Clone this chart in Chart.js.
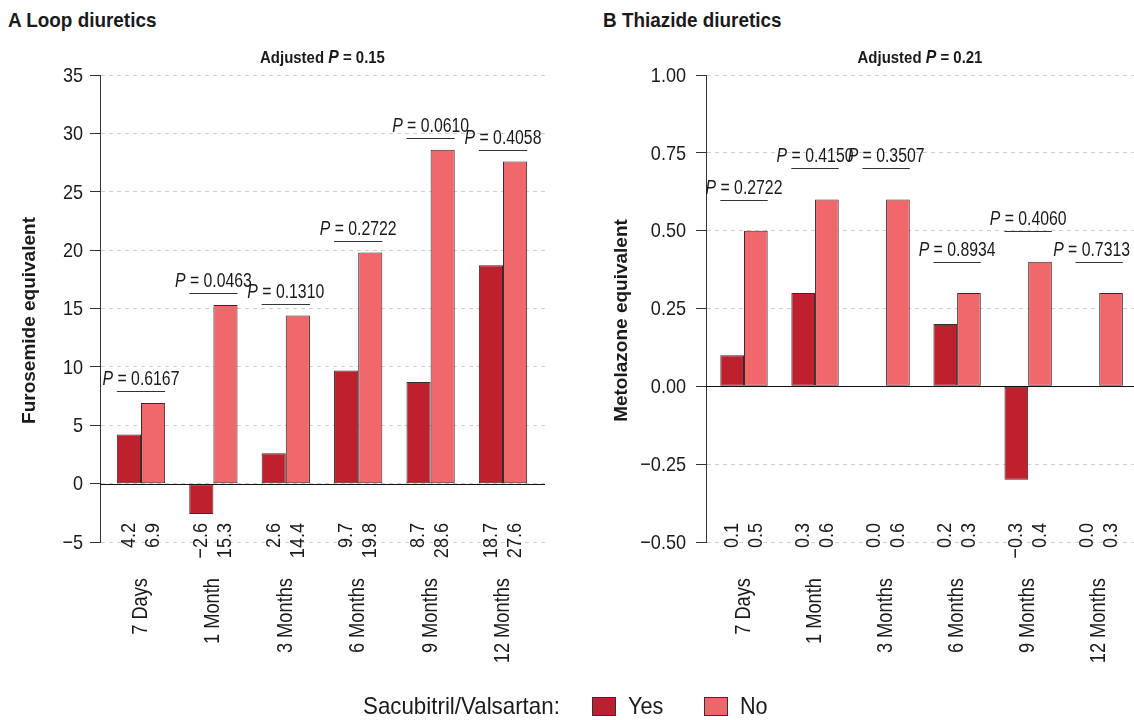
<!DOCTYPE html>
<html>
<head>
<meta charset="utf-8">
<script src="https://cdn.jsdelivr.net/npm/chart.js@4.4.1/dist/chart.umd.min.js"></script>
<style>
  body { margin: 0; width: 1134px; height: 720px; background: #fff; position: relative; overflow: hidden;
         font-family: 'Liberation Sans', Arial, sans-serif; color: #1a1a1a; }
  .panel { position: absolute; top: 0; width: 567px; height: 720px; }
  .title { position: absolute; top: 8px; font-weight: bold; font-size: 21px; line-height: 24px;
           transform: scaleX(0.9); transform-origin: left center; white-space: nowrap; }
  .leg { position: absolute; font-size: 24px; line-height: 28px; top: 692px; white-space: nowrap;
         transform: scaleX(0.9); transform-origin: left center; }
  .sw { position: absolute; top: 697px; width: 24px; height: 19px; border: 1px solid #333; box-sizing: border-box; }
</style>
</head>
<body>
  <div class="title" style="left:8px">A Loop diuretics</div>
  <div class="title" style="left:603px">B Thiazide diuretics</div>

  <div class="panel" style="left:0"><canvas id="loopChart" width="567" height="720"></canvas></div>
  <div class="panel" style="left:567px"><canvas id="thiazideChart" width="567" height="720"></canvas></div>

  <div class="leg" style="left:363px; transform: scaleX(0.93)">Sacubitril/Valsartan:</div>
  <div class="sw" style="left:592px; background:#B8212F"></div>
  <div class="leg" style="left:628px">Yes</div>
  <div class="sw" style="left:704px; background:#EB6769"></div>
  <div class="leg" style="left:740px">No</div>

<script>
// ---- data ----
const categories = ['7 Days', '1 Month', '3 Months', '6 Months', '9 Months', '12 Months'];

const loopYes = [4.2, -2.6, 2.6, 9.7, 8.7, 18.7];
const loopNo = [6.9, 15.3, 14.4, 19.8, 28.6, 27.6];
const loopP = ['0.6167', '0.0463', '0.1310', '0.2722', '0.0610', '0.4058'];
const loopBracket = [7.9, 16.3, 15.4, 20.8, 29.6, 28.6];
const loopTicks = [-5, 0, 5, 10, 15, 20, 25, 30, 35];

const thiaYes = [0.1, 0.3, 0.0, 0.2, -0.3, 0.0];
const thiaNo = [0.5, 0.6, 0.6, 0.3, 0.4, 0.3];
const thiaP = ['0.2722', '0.4150', '0.3507', '0.8934', '0.4060', '0.7313'];
const thiaBracket = [0.6, 0.7, 0.7, 0.4, 0.5, 0.4];
const thiaTicks = [-0.5, -0.25, 0, 0.25, 0.5, 0.75, 1.0];

const YES_COLOR = '#BE202E';
const NO_COLOR = '#F0686B';
const FONT = "'Liberation Sans', Arial, sans-serif";
const MINUS = '\u2212';

function fmt(v, d) {
    const s = Math.abs(v).toFixed(d);
    return (v < 0 && Math.abs(v) > 1e-9 ? MINUS : '') + s;
}

// one string, optionally rotated, squeezed horizontally by sx
function txt(ctx, s, x, y, font, align, sx, rot) {
    ctx.save();
    ctx.translate(x, y);
    if (rot) ctx.rotate(rot);
    ctx.scale(sx, 1);
    ctx.font = font;
    ctx.textAlign = align;
    ctx.fillText(s, 0, 0);
    ctx.restore();
}

// row of pieces with different fonts, centred on cx (kept inside maxX)
function drawMixed(ctx, parts, cx, y, sx, maxX) {
    let total = 0;
    parts.forEach(p => { ctx.font = p[1]; total += ctx.measureText(p[0]).width * sx; });
    let x = cx - total / 2;
    if (maxX && x + total > maxX) x = maxX - total;
    parts.forEach(p => {
        txt(ctx, p[0], x, y, p[1], 'left', sx, 0);
        ctx.font = p[1];
        x += ctx.measureText(p[0]).width * sx;
    });
}

const annotate = {
    id: 'annotate',
    afterDatasetsDraw(chart, args, o) {
        const { ctx, chartArea: a, scales: { x, y } } = chart;
        const m0 = chart.getDatasetMeta(0), m1 = chart.getDatasetMeta(1);
        ctx.save();

        // zero line
        const y0 = Math.round(y.getPixelForValue(0)) + 0.5;
        ctx.strokeStyle = '#111';
        ctx.lineWidth = 1;
        ctx.beginPath(); ctx.moveTo(a.left, y0); ctx.lineTo(a.right, y0); ctx.stroke();

        ctx.fillStyle = '#1a1a1a';

        // y tick labels
        ctx.textBaseline = 'middle';
        o.ticks.forEach(v => {
            txt(ctx, fmt(v, o.dec), a.left - 10 - o.tickPad, y.getPixelForValue(v) + 1,
                '21px ' + FONT, 'right', 0.86, 0);
        });

        // P value brackets
        ctx.textBaseline = 'alphabetic';
        for (let i = 0; i < categories.length; i++) {
            const b0 = m0.data[i], b1 = m1.data[i];
            const x1 = b0.x - b0.width / 2, x2 = b1.x + b1.width / 2;
            const hy = Math.round(y.getPixelForValue(o.bracket[i])) + 0.5;
            ctx.strokeStyle = '#333';
            ctx.lineWidth = 1.2;
            ctx.beginPath(); ctx.moveTo(x1, hy); ctx.lineTo(x2, hy); ctx.stroke();
            drawMixed(ctx, [['P', 'italic 20px ' + FONT], [' = ' + o.pvals[i], '20px ' + FONT]],
                (x1 + x2) / 2, hy - 7, 0.79, chart.width - 4);
        }

        // value labels and category labels, rotated
        ctx.textBaseline = 'middle';
        [[m0, o.yes], [m1, o.no]].forEach(([meta, vals]) => {
            meta.data.forEach((bar, i) => {
                txt(ctx, fmt(vals[i], 1), bar.x, a.bottom - 19, '21px ' + FONT, 'right', 0.86, -Math.PI / 2);
            });
        });
        categories.forEach((c, i) => {
            txt(ctx, c, x.getPixelForValue(i), a.bottom + 36, '22px ' + FONT, 'right', 0.83, -Math.PI / 2);
        });

        // subtitle
        drawMixed(ctx, [['Adjusted ', 'bold 17px ' + FONT], ['P', 'italic bold 18px ' + FONT],
            [' = ' + o.adjP, 'bold 17px ' + FONT]], (a.left + a.right) / 2, a.top - 17, 0.88);

        // y axis title
        txt(ctx, o.yTitle, o.titleX, (a.top + a.bottom) / 2 + 12, 'bold 19px ' + FONT, 'center', 1, -Math.PI / 2);

        ctx.restore();
    }
};

function makeChart(id, cfg) {
    return new Chart(document.getElementById(id).getContext('2d'), {
        type: 'bar',
        data: {
            datasets: [{
                label: 'Yes',
                data: cfg.yes.map((v, i) => ({ x: i, y: v })),
                backgroundColor: YES_COLOR,
                borderColor: '#3a2a2a',
                borderWidth: 1,
                borderSkipped: false
            }, {
                label: 'No',
                data: cfg.no.map((v, i) => ({ x: i, y: v })),
                backgroundColor: NO_COLOR,
                borderColor: '#3a2a2a',
                borderWidth: 1,
                borderSkipped: false
            }]
        },
        options: {
            responsive: false,
            animation: false,
            events: [],
            categoryPercentage: 0.667,
            barPercentage: 1,
            layout: { padding: { top: 75, bottom: 178, left: 0, right: cfg.padRight } },
            plugins: {
                legend: { display: false },
                tooltip: { enabled: false },
                annotate: {
                    yes: cfg.yes, no: cfg.no, pvals: cfg.pvals, bracket: cfg.bracket,
                    adjP: cfg.adjP, yTitle: cfg.yTitle, titleX: cfg.titleX,
                    ticks: cfg.ticks, dec: cfg.dec, tickPad: cfg.tickPad
                }
            },
            scales: {
                x: {
                    type: 'linear',
                    display: false,
                    offset: false,
                    min: cfg.xMin,
                    max: cfg.xMax,
                    afterBuildTicks: s => { s.ticks = categories.map((c, i) => ({ value: i })); }
                },
                y: {
                    min: cfg.ticks[0],
                    max: cfg.ticks[cfg.ticks.length - 1],
                    afterBuildTicks: s => { s.ticks = cfg.ticks.map(v => ({ value: v })); },
                    afterFit: s => { s.width = cfg.axisLeft; },
                    ticks: { display: false },
                    grid: {
                        color: '#cfcfcf',
                        tickColor: '#333',
                        tickLength: 10,
                        lineWidth: 1
                    },
                    border: { color: '#333', width: 1, dash: [4, 4] }
                }
            }
        },
        plugins: [annotate]
    });
}

const loopChart = makeChart('loopChart', {
    yes: loopYes, no: loopNo, pvals: loopP, bracket: loopBracket, ticks: loopTicks, dec: 0,
    adjP: '0.15', yTitle: 'Furosemide equivalent', titleX: 30, tickPad: 7,
    axisLeft: 100, padRight: 22, xMin: -0.566, xMax: 5.58
});

const thiaChart = makeChart('thiazideChart', {
    yes: thiaYes, no: thiaNo, pvals: thiaP, bracket: thiaBracket, ticks: thiaTicks, dec: 2,
    adjP: '0.21', yTitle: 'Metolazone equivalent', titleX: 55, tickPad: 10,
    axisLeft: 139, padRight: 0, xMin: -0.535, xMax: 5.49
});
</script>
</body>
</html>
